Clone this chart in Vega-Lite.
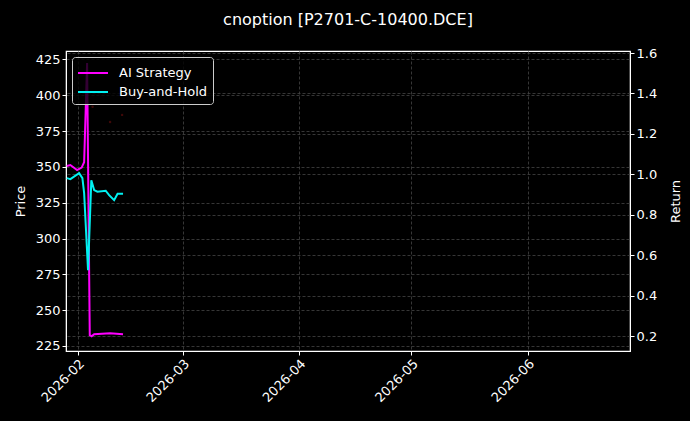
{
  "$schema": "https://vega.github.io/schema/vega-lite/v6.json",
  "description": "AI strategy vs buy-and-hold returns for option P2701-C-10400.DCE",
  "autosize": {"type": "none"},
  "width": 564,
  "height": 300,
  "padding": {"left": 66, "top": 51, "right": 60, "bottom": 70},
  "background": "#000000",
  "title": {
    "text": "cnoption [P2701-C-10400.DCE]",
    "anchor": "middle",
    "color": "white",
    "font": "DejaVu Sans",
    "fontSize": 16,
    "fontWeight": "normal",
    "offset": 19
  },
  "config": {
    "view": {"stroke": "white", "strokeWidth": 1.2},
    "axis": {
      "domainColor": "white",
      "tickColor": "white",
      "labelColor": "white",
      "titleColor": "white",
      "labelFont": "DejaVu Sans",
      "titleFont": "DejaVu Sans",
      "labelFontSize": 13,
      "titleFontSize": 13,
      "titleFontWeight": "normal",
      "tickSize": 4,
      "gridColor": "#444444",
      "gridDash": [3, 2],
      "gridWidth": 0.8
    }
  },
  "datasets": {
    "returns": [
      {"t": "2026-01-29T03:00:00Z", "series": "AI Strategy", "ret": 1.041},
      {"t": "2026-01-30T02:00:00Z", "series": "AI Strategy", "ret": 1.046},
      {"t": "2026-01-31T21:00:00Z", "series": "AI Strategy", "ret": 1.021},
      {"t": "2026-02-02T02:00:00Z", "series": "AI Strategy", "ret": 1.033},
      {"t": "2026-02-02T18:00:00Z", "series": "AI Strategy", "ret": 1.06},
      {"t": "2026-02-03T13:00:00Z", "series": "AI Strategy", "ret": 1.55},
      {"t": "2026-02-04T06:00:00Z", "series": "AI Strategy", "ret": 0.204},
      {"t": "2026-02-04T18:00:00Z", "series": "AI Strategy", "ret": 0.199},
      {"t": "2026-02-05T10:00:00Z", "series": "AI Strategy", "ret": 0.209},
      {"t": "2026-02-09T16:00:00Z", "series": "AI Strategy", "ret": 0.214},
      {"t": "2026-02-13T03:00:00Z", "series": "AI Strategy", "ret": 0.209},
      {"t": "2026-01-29T03:00:00Z", "series": "Buy-and-Hold", "ret": 0.981},
      {"t": "2026-01-30T02:00:00Z", "series": "Buy-and-Hold", "ret": 0.976},
      {"t": "2026-02-01T10:00:00Z", "series": "Buy-and-Hold", "ret": 1.006},
      {"t": "2026-02-02T07:00:00Z", "series": "Buy-and-Hold", "ret": 0.981},
      {"t": "2026-02-02T18:00:00Z", "series": "Buy-and-Hold", "ret": 0.907},
      {"t": "2026-02-03T19:00:00Z", "series": "Buy-and-Hold", "ret": 0.526},
      {"t": "2026-02-04T16:00:00Z", "series": "Buy-and-Hold", "ret": 0.971},
      {"t": "2026-02-05T10:00:00Z", "series": "Buy-and-Hold", "ret": 0.922},
      {"t": "2026-02-06T07:00:00Z", "series": "Buy-and-Hold", "ret": 0.914},
      {"t": "2026-02-08T12:00:00Z", "series": "Buy-and-Hold", "ret": 0.919},
      {"t": "2026-02-09T10:00:00Z", "series": "Buy-and-Hold", "ret": 0.897},
      {"t": "2026-02-10T18:00:00Z", "series": "Buy-and-Hold", "ret": 0.872},
      {"t": "2026-02-11T16:00:00Z", "series": "Buy-and-Hold", "ret": 0.904},
      {"t": "2026-02-13T03:00:00Z", "series": "Buy-and-Hold", "ret": 0.904}
    ],
    "price": [
      {"t": "2026-02-05T00:00:00Z", "price": 392},
      {"t": "2026-02-09T16:00:00Z", "price": 381.4},
      {"t": "2026-02-12T21:00:00Z", "price": 386.3}
    ]
  },
  "encoding": {
    "x": {
      "field": "t",
      "type": "temporal",
      "title": null,
      "scale": {
        "type": "utc",
        "domain": [
          {"year": 2026, "month": 1, "date": 28, "hours": 22, "utc": true},
          {"year": 2026, "month": 6, "date": 28, "hours": 7, "utc": true}
        ]
      },
      "axis": {
        "format": "%Y-%m",
        "values": [
          {"year": 2026, "month": 2, "date": 1, "utc": true},
          {"year": 2026, "month": 3, "date": 1, "utc": true},
          {"year": 2026, "month": 4, "date": 1, "utc": true},
          {"year": 2026, "month": 5, "date": 1, "utc": true},
          {"year": 2026, "month": 6, "date": 1, "utc": true}
        ],
        "labelAngle": -45,
        "labelAlign": "right",
        "labelBaseline": "top",
        "labelPadding": 2,
        "grid": true
      }
    }
  },
  "layer": [
    {
      "data": {"name": "price"},
      "mark": {"type": "circle", "size": 6, "color": "#5a0c0c"},
      "encoding": {
        "y": {
          "field": "price",
          "type": "quantitative",
          "title": "Price",
          "scale": {"domain": [221.5, 430.9], "nice": false, "zero": false},
          "axis": {
            "orient": "left",
            "values": [225, 250, 275, 300, 325, 350, 375, 400, 425],
            "grid": true,
            "titlePadding": 8
          }
        }
      }
    },
    {
      "data": {"name": "returns"},
      "mark": {"type": "line", "strokeWidth": 2},
      "encoding": {
        "y": {
          "field": "ret",
          "type": "quantitative",
          "title": "Return",
          "scale": {"domain": [0.126, 1.61], "nice": false, "zero": false},
          "axis": {
            "orient": "right",
            "values": [0.2, 0.4, 0.6, 0.8, 1.0, 1.2, 1.4, 1.6],
            "format": ".1f",
            "grid": true,
            "titleAngle": 270,
            "titlePadding": 26
          }
        },
        "color": {
          "field": "series",
          "type": "nominal",
          "scale": {"domain": ["AI Strategy", "Buy-and-Hold"], "range": ["#ff00ff", "#00f0f0"]},
          "legend": {
            "title": null,
            "orient": "top-left",
            "offset": 6,
            "fillColor": "rgba(0,0,0,0.8)",
            "strokeColor": "#cccccc",
            "cornerRadius": 3,
            "padding": 5,
            "rowPadding": 1,
            "symbolType": "M-1.5,0H1.5",
            "symbolSize": 400,
            "symbolOffset": 5,
            "symbolStrokeWidth": 2,
            "labelColor": "white",
            "labelFont": "DejaVu Sans",
            "labelFontSize": 13,
            "labelOffset": 15
          }
        }
      }
    }
  ],
  "resolve": {"scale": {"y": "independent"}, "axis": {"y": "independent"}}
}
